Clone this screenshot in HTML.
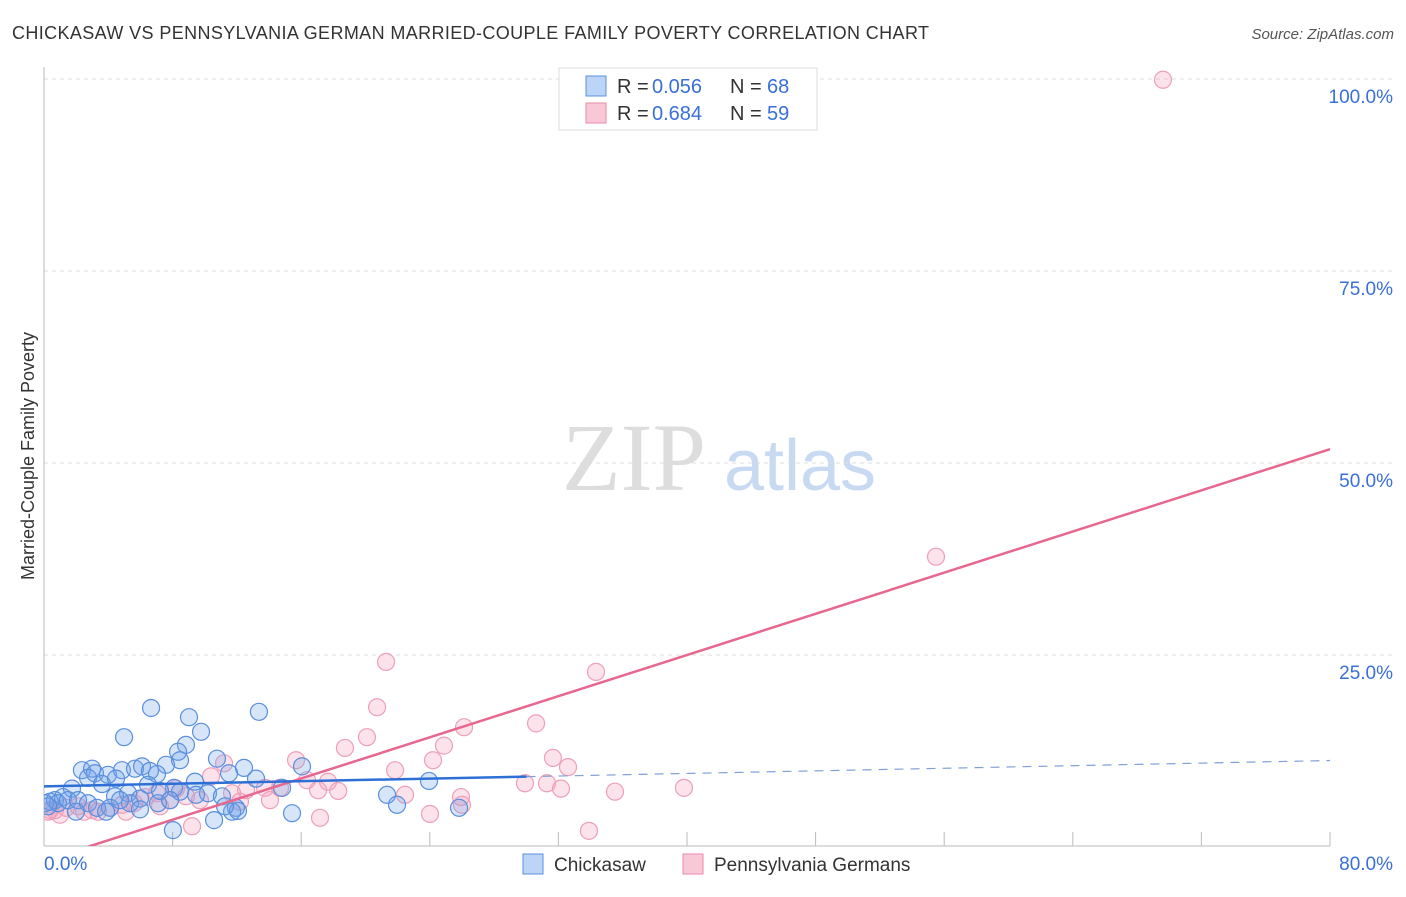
<!DOCTYPE html>
<html><head><meta charset="utf-8"><style>
body{margin:0;background:#fff;font-family:"Liberation Sans",sans-serif;}
</style></head><body>
<svg id="chart" width="1406" height="892" xmlns="http://www.w3.org/2000/svg">
<defs><clipPath id="plotclip"><rect x="44" y="60" width="1300" height="786"/></clipPath></defs>
<text x="12" y="39" font-size="18" fill="#333" textLength="917" lengthAdjust="spacing">CHICKASAW VS PENNSYLVANIA GERMAN MARRIED-COUPLE FAMILY POVERTY CORRELATION CHART</text>
<text x="1394" y="39" font-size="15" fill="#555" font-style="italic" text-anchor="end">Source: ZipAtlas.com</text>
<text x="0" y="0" transform="translate(34,456) rotate(-90)" font-size="18" fill="#333" text-anchor="middle">Married-Couple Family Poverty</text>
<g><text x="634" y="490" font-size="96" fill="#ddd" font-family="Liberation Serif" text-anchor="middle">ZIP</text><text x="800" y="490" font-size="72" fill="#c8daf2" text-anchor="middle">atlas</text></g>
<g id="grid"></g><g id="axes"></g><g id="marks" clip-path="url(#plotclip)"></g>
<g>
<rect x="559" y="68" width="258" height="62" fill="#fff" stroke="#ddd"/>
<rect x="586" y="76" width="20" height="20" fill="#bcd4f6" stroke="#5b8fe0"/>
<rect x="586" y="103" width="20" height="20" fill="#f8c8d7" stroke="#e88aa8"/>
<g font-size="20" fill="#333">
<text x="617" y="93">R =</text><text x="652" y="93" fill="#3a6fd8">0.056</text><text x="730" y="93">N =</text><text x="767" y="93" fill="#3a6fd8">68</text>
<text x="617" y="120">R =</text><text x="652" y="120" fill="#3a6fd8">0.684</text><text x="730" y="120">N =</text><text x="767" y="120" fill="#3a6fd8">59</text>
</g>
</g>
<g>
<rect x="523" y="854" width="20" height="20" fill="#bcd4f6" stroke="#5b8fe0"/>
<text x="554" y="871" font-size="19" fill="#333">Chickasaw</text>
<rect x="683" y="854" width="20" height="20" fill="#f8c8d7" stroke="#e88aa8"/>
<text x="714" y="871" font-size="19" fill="#333">Pennsylvania Germans</text>
</g>
</svg>
<script>
const blueX=[6.66,9.02,13.37,4.98,9.77,8.83,8.34,8.46,10.76,7.59,2.36,2.99,3.17,3.98,4.85,5.66,6.10,6.59,7.03,2.74,3.61,4.48,12.44,11.51,13.19,9.39,8.09,6.47,5.23,4.42,1.74,1.18,0.68,0.37,0.87,1.49,2.12,2.74,3.30,4.11,5.35,5.97,7.09,1.99,3.86,10.20,11.07,11.94,11.70,12.07,11.26,10.58,8.02,15.43,16.05,14.81,21.34,21.96,23.95,25.82,4.73,0.06,0.25,8.46,7.22,9.46,5.97,7.84];
const blueY=[18.1,16.9,17.6,14.3,15.0,13.3,12.4,11.3,11.5,10.7,10.0,10.2,9.6,9.4,10.0,10.2,10.5,9.9,9.5,9.0,8.2,8.9,10.3,9.6,8.9,8.5,7.7,8.1,7.0,6.6,7.6,6.5,6.1,5.9,5.7,6.1,6.1,5.7,5.1,5.1,5.7,6.3,5.7,4.6,4.6,7.0,6.6,5.1,4.6,4.7,5.3,3.5,2.2,4.4,10.5,7.7,6.8,5.5,8.6,5.1,6.1,5.7,5.3,7.2,7.3,6.8,4.9,6.1];
const pinkX=[69.61,55.49,21.28,34.34,20.72,30.61,26.13,20.09,18.72,24.88,31.66,15.68,32.60,24.20,21.84,10.39,11.20,14.68,16.36,17.67,18.30,17.05,22.46,25.94,29.92,31.29,32.16,35.52,39.81,12.57,13.75,11.70,8.83,8.21,7.03,6.28,4.85,5.60,4.11,3.36,2.99,2.12,1.37,0.68,0.25,1.00,2.49,5.10,7.22,7.84,9.70,12.19,14.06,17.17,24.01,26.00,33.90,9.21,0.37];
const pinkY=[99.9,37.8,24.1,22.8,18.2,16.1,15.6,14.3,12.9,13.2,11.6,11.3,10.4,11.3,10.0,9.2,10.9,7.7,8.7,8.5,7.3,7.4,6.8,6.5,8.3,8.3,7.6,7.2,7.7,7.4,7.7,7.0,6.6,7.6,7.0,6.5,5.5,5.7,5.1,4.6,4.8,5.3,5.1,4.8,4.6,4.2,4.6,4.6,5.3,6.1,6.1,5.9,6.1,3.8,4.3,5.5,2.1,2.7,4.8];
const blueTrend=[7.9,0.042];
const pinkTrend=[-1.8,0.67];
const yTicks=[25,50,75,100];
const xTickLabels=["0.0%","80.0%"];
const NS="http://www.w3.org/2000/svg";
const X=v=>44+v*16.075, Y=v=>847-v*7.68;
function mk(g,t,a){const e=document.createElementNS(NS,t);for(const k in a)e.setAttribute(k,a[k]);document.getElementById(g).appendChild(e);return e;}
yTicks.forEach(t=>{
 const l=mk('grid','line',{x1:44,x2:1394,y1:Y(t),y2:Y(t),stroke:'#ddd','stroke-dasharray':'4,4'});
 
 
 const tx=mk('grid','text',{x:1393,y:Y(t)+24,'font-size':19,fill:'#3a6fd8','text-anchor':'end'});
 tx.textContent=t.toFixed(1)+'%';
 
 
});
const ax=mk('axes','line',{x1:44,x2:44,y1:67,y2:846,stroke:'#bbb'});


const bx=mk('axes','line',{x1:44,x2:1330,y1:846,y2:846,stroke:'#bbb'});


for(let i=1;i<=10;i++){const t=mk('axes','line',{x1:X(i*8),x2:X(i*8),y1:832,y2:846,stroke:'#bbb'});
 
 }
[[0,'start',44],[80,'end',1393]].forEach((d,i)=>{const t=mk('axes','text',{x:d[2],y:870,'font-size':19,fill:'#3a6fd8','text-anchor':d[1]});t.textContent=xTickLabels[i];
 
 });
pinkX.forEach((x,i)=>{const c=mk('marks','circle',{cx:X(x),cy:Y(pinkY[i]),r:8.5,fill:'rgba(244,160,188,0.3)',stroke:'#eda0b8','stroke-width':1.2});
 
 });
blueX.forEach((x,i)=>{const c=mk('marks','circle',{cx:X(x),cy:Y(blueY[i]),r:8.5,fill:'rgba(110,160,232,0.28)',stroke:'#5a8fde','stroke-width':1.2});
 
 });
const pl=mk('marks','line',{x1:X(0),y1:Y(pinkTrend[0]),x2:X(80),y2:Y(pinkTrend[0]+pinkTrend[1]*80),stroke:'#e8678f','stroke-width':2.5});


const bmax=Math.max(...blueX)+4.2;
const bl=mk('marks','line',{x1:X(0),y1:Y(blueTrend[0]),x2:X(bmax),y2:Y(blueTrend[0]+blueTrend[1]*bmax),stroke:'#2e6fd6','stroke-width':2.5});


const bd=mk('marks','line',{x1:X(bmax),y1:Y(blueTrend[0]+blueTrend[1]*bmax),x2:X(80),y2:Y(blueTrend[0]+blueTrend[1]*80),stroke:'#7fa0d8','stroke-width':1.2,'stroke-dasharray':'9,7'});


</script>
</body></html>
